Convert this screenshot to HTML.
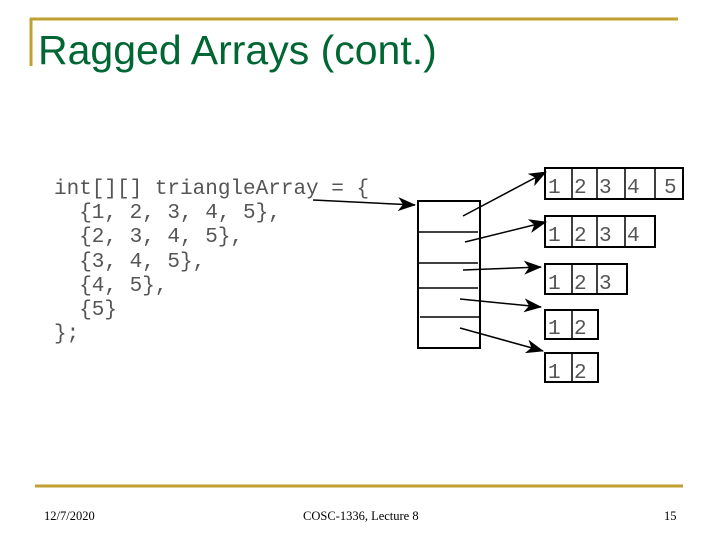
<!DOCTYPE html>
<html><head><style>
body{margin:0;width:720px;height:540px;background:#fff;position:relative;overflow:hidden;font-family:"Liberation Sans",sans-serif}
.t{position:absolute;left:38px;top:27px;font-size:41px;color:#006633;white-space:nowrap}
.code{position:absolute;left:54px;top:178px;font-family:"Liberation Mono",monospace;font-size:21px;line-height:24.2px;color:#555;white-space:pre}
.f{position:absolute;top:509px;font-family:"Liberation Serif",serif;font-size:12.5px;color:#000}
</style></head><body>
<svg width="720" height="540" style="position:absolute;left:0;top:0">
<line x1="30" y1="19" x2="678" y2="19" stroke="#c0a030" stroke-width="3"/>
<line x1="31" y1="18" x2="31" y2="66" stroke="#c0a030" stroke-width="3"/>
<line x1="35" y1="486" x2="683" y2="486" stroke="#c0a030" stroke-width="3"/>
<defs><marker id="a" markerWidth="18" markerHeight="14" refX="17" refY="7" orient="auto" markerUnits="userSpaceOnUse" viewBox="0 0 18 14"><path d="M0,0 L18,7 L0,14 L5,7z" fill="#000"/></marker></defs>
<g stroke="#000" stroke-width="2" fill="none">
<rect x="418" y="201" width="62" height="147"/>
<line x1="418" y1="232" x2="478" y2="232" stroke-width="1.5"/>
<line x1="418" y1="263" x2="478" y2="263" stroke-width="1.5"/>
<line x1="418" y1="288" x2="478" y2="288" stroke-width="1.5"/>
<line x1="420" y1="317" x2="480" y2="317" stroke-width="1.5"/>
<rect x="545" y="168" width="138" height="31"/>
<path d="M572 168v31M597 168v31M625 168v31M655 168v31" stroke-width="1.5"/>
<rect x="545" y="216" width="110" height="31"/>
<path d="M572 216v31M597 216v31M625 216v31" stroke-width="1.5"/>
<rect x="545" y="264" width="82" height="30"/>
<path d="M572 264v30M597 264v30" stroke-width="1.5"/>
<rect x="545" y="310" width="53" height="29"/>
<path d="M572 310v29" stroke-width="1.5"/>
<rect x="545" y="353" width="53" height="29"/>
<path d="M572 353v29" stroke-width="1.5"/>
<g stroke-width="1.5">
<line x1="313" y1="200" x2="415" y2="205" marker-end="url(#a)"/>
<line x1="463" y1="216" x2="546" y2="172" marker-end="url(#a)"/>
<line x1="465" y1="242" x2="546" y2="222" marker-end="url(#a)"/>
<line x1="463" y1="270" x2="541" y2="267" marker-end="url(#a)"/>
<line x1="460" y1="299" x2="541" y2="307" marker-end="url(#a)"/>
<line x1="460" y1="328" x2="543" y2="351" marker-end="url(#a)"/>
</g></g>
<g font-family="Liberation Mono,monospace" font-size="21" fill="#555">
<text x="548" y="193">1</text><text x="574" y="193">2</text><text x="599" y="193">3</text><text x="627" y="193">4</text><text x="664" y="193">5</text>
<text x="548" y="241">1</text><text x="574" y="241">2</text><text x="599" y="241">3</text><text x="627" y="241">4</text>
<text x="548" y="289">1</text><text x="574" y="289">2</text><text x="599" y="289">3</text>
<text x="548" y="334">1</text><text x="574" y="334">2</text>
<text x="548" y="378">1</text><text x="574" y="378">2</text>
</g>
</svg>
<div class="t">Ragged Arrays (cont.)</div>
<div class="code">int[][] triangleArray = {
  {1, 2, 3, 4, 5},
  {2, 3, 4, 5},
  {3, 4, 5},
  {4, 5},
  {5}
};</div>
<div class="f" style="left:44px">12/7/2020</div>
<div class="f" style="left:303px">COSC-1336, Lecture 8</div>
<div class="f" style="left:664px">15</div>
</body></html>
